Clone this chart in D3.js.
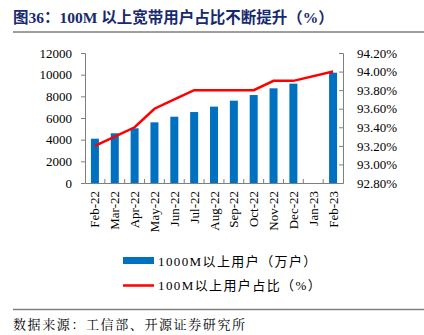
<!DOCTYPE html>
<html>
<head>
<meta charset="utf-8">
<script src="https://cdn.jsdelivr.net/npm/d3@7"></script>
<style>
  body { margin: 0; background: #fff; }
  svg { display: block; }
  .axis text { font-family: "Liberation Serif", "Times New Roman", serif; font-size: 13px; fill: #000; }
  .axis path, .axis line { stroke: #7f7f7f; }
</style>
</head>
<body>
<svg id="chart" width="424" height="335"></svg>
<script>
// monthly figures
var months = ["Feb-22","Mar-22","Apr-22","May-22","Jun-22","Jul-22","Aug-22","Sep-22","Oct-22","Nov-22","Dec-22","Jan-23","Feb-23"];
var gigaUsers = [4090, 4590, 5050, 5600, 6120, 6550, 7050, 7600, 8120, 8740, 9170, null, 10180];   // 万户
var share100M = [93.2, 93.3, 93.4, 93.6, 93.7, 93.8, 93.8, 93.8, 93.8, 93.9, 93.9, null, 94.0];    // %
var leftTicks = [0, 2000, 4000, 6000, 8000, 10000, 12000];
var rightTicks = [92.8, 93.0, 93.2, 93.4, 93.6, 93.8, 94.0, 94.2];

var svg = d3.select("#chart");
var plot = {left: 85, right: 343, top: 53, bottom: 183};

// header
svg.append("text")
  .attr("x", 13).attr("y", 23)
  .attr("font-family", "'Liberation Serif', 'Noto Sans CJK SC', serif")
  .attr("font-weight", "bold").attr("font-size", 15.5)
  .attr("fill", "#172a6e")
  .text("图36：100M 以上宽带用户占比不断提升（%）");
svg.append("line")
  .attr("x1", 13).attr("x2", 424).attr("y1", 32).attr("y2", 32)
  .attr("stroke", "#7f7f7f").attr("stroke-width", 1.5);

var xb = d3.scaleBand().domain(months).range([plot.left, plot.right]);
var yL = d3.scaleLinear().domain([0, 12000]).range([plot.bottom, plot.top]);
var yR = d3.scaleLinear().domain([92.8, 94.2]).range([plot.bottom, plot.top]);

// bars
svg.append("g").selectAll("rect")
  .data(months.map(function(m, i) { return {m: m, v: gigaUsers[i]}; }).filter(function(d) { return d.v != null; }))
  .enter().append("rect")
  .attr("x", function(d) { return xb(d.m) + xb.bandwidth() / 2 - 4; })
  .attr("width", 8)
  .attr("y", function(d) { return yL(d.v); })
  .attr("height", function(d) { return plot.bottom - yL(d.v); })
  .attr("fill", "#0070c0");

// axes
svg.append("g").attr("class", "axis")
  .attr("transform", "translate(" + plot.left + ",0)")
  .call(d3.axisLeft(yL).tickValues(leftTicks).tickSize(4).tickPadding(9).tickFormat(d3.format("d")));
svg.append("g").attr("class", "axis")
  .attr("transform", "translate(" + plot.right + ",0)")
  .call(d3.axisRight(yR).tickValues(rightTicks).tickSize(-4).tickPadding(14).tickFormat(function(d) { return d.toFixed(2) + "%"; }));

var gx = svg.append("g").attr("class", "axis")
  .attr("transform", "translate(0," + plot.bottom + ")")
  .call(d3.axisBottom(xb).tickSize(0).tickPadding(0));
gx.selectAll(".tick text")
  .attr("font-size", 12.5)
  .attr("transform", "rotate(-90)")
  .attr("text-anchor", "end")
  .attr("x", -8).attr("y", 0).attr("dy", "0.35em");
// inner ticks between categories
gx.selectAll(".sep")
  .data(months.slice(1))
  .enter().append("line")
  .attr("x1", function(d) { return xb(d); }).attr("x2", function(d) { return xb(d); })
  .attr("y1", 0).attr("y2", -4)
  .attr("stroke", "#7f7f7f");

// share line, the missing month is bridged
var line = d3.line()
  .x(function(d) { return xb(d.m) + xb.bandwidth() / 2; })
  .y(function(d) { return yR(d.v); });
svg.append("path")
  .datum(months.map(function(m, i) { return {m: m, v: share100M[i]}; }).filter(function(d) { return d.v != null; }))
  .attr("d", line)
  .attr("fill", "none")
  .attr("stroke", "#ff0000")
  .attr("stroke-width", 2.5);

// legend
var lg = svg.append("g").attr("font-family", "'Liberation Serif', 'Noto Sans CJK SC', serif").attr("font-size", 13)
  .attr("letter-spacing", 1.4);
lg.append("rect").attr("x", 123).attr("y", 257).attr("width", 31).attr("height", 7).attr("fill", "#0070c0");
lg.append("text").attr("x", 158).attr("y", 265.5).text("1000M以上用户（万户）");
lg.append("line").attr("x1", 123).attr("x2", 154).attr("y1", 285.5).attr("y2", 285.5)
  .attr("stroke", "#ff0000").attr("stroke-width", 2.5);
lg.append("text").attr("x", 158).attr("y", 290).text("100M以上用户占比（%）");

// source
svg.append("line")
  .attr("x1", 13).attr("x2", 424).attr("y1", 309.5).attr("y2", 309.5)
  .attr("stroke", "#7f7f7f").attr("stroke-width", 1.5);
svg.append("text")
  .attr("x", 13).attr("y", 329)
  .attr("font-family", "'Noto Serif CJK SC', 'Noto Sans CJK SC', serif")
  .attr("font-size", 13)
  .attr("letter-spacing", 1.6)
  .text("数据来源：工信部、开源证券研究所");
</script>
</body>
</html>
